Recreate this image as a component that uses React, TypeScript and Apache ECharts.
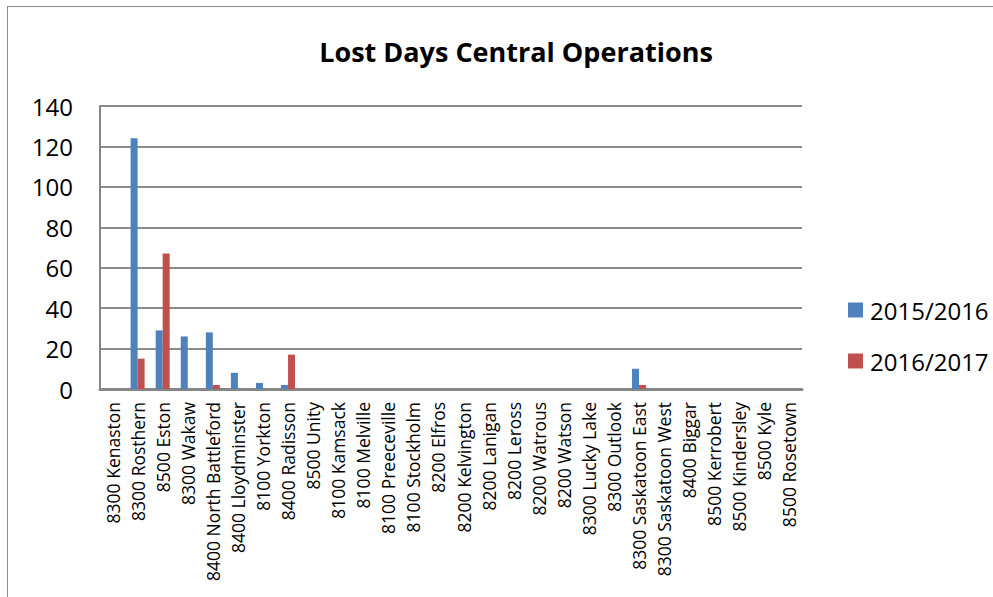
import React, { useEffect, useRef } from "react";
import * as echarts from "echarts";

const categories = [
  "8300 Kenaston",
  "8300 Rosthern",
  "8500 Eston",
  "8300 Wakaw",
  "8400 North Battleford",
  "8400 Lloydminster",
  "8100 Yorkton",
  "8400 Radisson",
  "8500 Unity",
  "8100 Kamsack",
  "8100 Melville",
  "8100 Preeceville",
  "8100 Stockholm",
  "8200 Elfros",
  "8200 Kelvington",
  "8200 Lanigan",
  "8200 Leross",
  "8200 Watrous",
  "8200 Watson",
  "8300 Lucky Lake",
  "8300 Outlook",
  "8300 Saskatoon East",
  "8300 Saskatoon West",
  "8400 Biggar",
  "8500 Kerrobert",
  "8500 Kindersley",
  "8500 Kyle",
  "8500 Rosetown",
];

const values2015_2016 = [0, 124, 29, 26, 28, 8, 3, 2, 0, 0, 0, 0, 0, 0, 0, 0, 0, 0, 0, 0, 0, 10, 0, 0, 0, 0, 0, 0];
const values2016_2017 = [0, 15, 67, 0, 2, 0, 0, 17, 0, 0, 0, 0, 0, 0, 0, 0, 0, 0, 0, 0, 0, 2, 0, 0, 0, 0, 0, 0];

const seriesNames = ["2015/2016", "2016/2017"];
const titleText = "Lost Days Central Operations";

const FONT = "'Open Sans', sans-serif";

export default function App() {
  const ref = useRef<HTMLDivElement>(null);

  useEffect(() => {
    if (!ref.current) return;
    const chart = echarts.init(ref.current, undefined, { renderer: "svg" });
    chart.setOption({
      animation: false,
      backgroundColor: "#ffffff",
      title: {
        text: titleText,
        left: 516,
        textAlign: "center",
        top: 38,
        padding: 0,
        textStyle: { fontFamily: FONT, fontWeight: "bold", fontSize: 27, color: "#000" },
      },
      legend: {
        orient: "vertical",
        left: 848,
        top: 298,
        padding: 0,
        itemWidth: 15,
        itemHeight: 15,
        itemGap: 27,
        icon: "rect",
        textStyle: { fontFamily: FONT, fontSize: 24, color: "#000", lineHeight: 24, padding: [0, 0, 0, 2] },
        data: seriesNames,
      },
      grid: { left: 100, right: 191, top: 106, bottom: 208, containLabel: false },
      xAxis: {
        type: "category",
        data: categories,
        axisLine: { show: true, lineStyle: { color: "#868686", width: 3 } },
        axisTick: { show: false },
        axisLabel: {
          interval: 0,
          rotate: 90,
          margin: 13,
          fontFamily: FONT,
          fontSize: 17.5,
          color: "#000",
        },
      },
      yAxis: {
        type: "value",
        min: 0,
        max: 140,
        interval: 20,
        axisLine: { show: true, lineStyle: { color: "#868686", width: 2 } },
        axisTick: { show: false },
        splitLine: { show: true, lineStyle: { color: "#8c8c8c", width: 2 } },
        axisLabel: { fontFamily: FONT, fontSize: 24, color: "#000", margin: 27 },
      },
      series: [
        {
          name: seriesNames[0],
          type: "bar",
          data: values2015_2016,
          barWidth: 7,
          barGap: "0%",
          itemStyle: { color: "#4F81BD" },
        },
        {
          name: seriesNames[1],
          type: "bar",
          data: values2016_2017,
          barWidth: 7,
          barGap: "0%",
          itemStyle: { color: "#C0504D" },
        },
      ],
      graphic: [
        {
          type: "line",
          shape: { x1: 7.5, y1: 6, x2: 7.5, y2: 597 },
          style: { stroke: "#898989", lineWidth: 1 },
        },
        {
          type: "line",
          shape: { x1: 7, y1: 6.5, x2: 993, y2: 6.5 },
          style: { stroke: "#898989", lineWidth: 1 },
        },
      ],
    });
    return () => chart.dispose();
  }, []);

  return (
    <div style={{ position: "fixed", left: 0, top: 0, width: 993, height: 597, overflow: "hidden" }}>
      <div ref={ref} style={{ width: 993, height: 597 }} />
    </div>
  );
}
